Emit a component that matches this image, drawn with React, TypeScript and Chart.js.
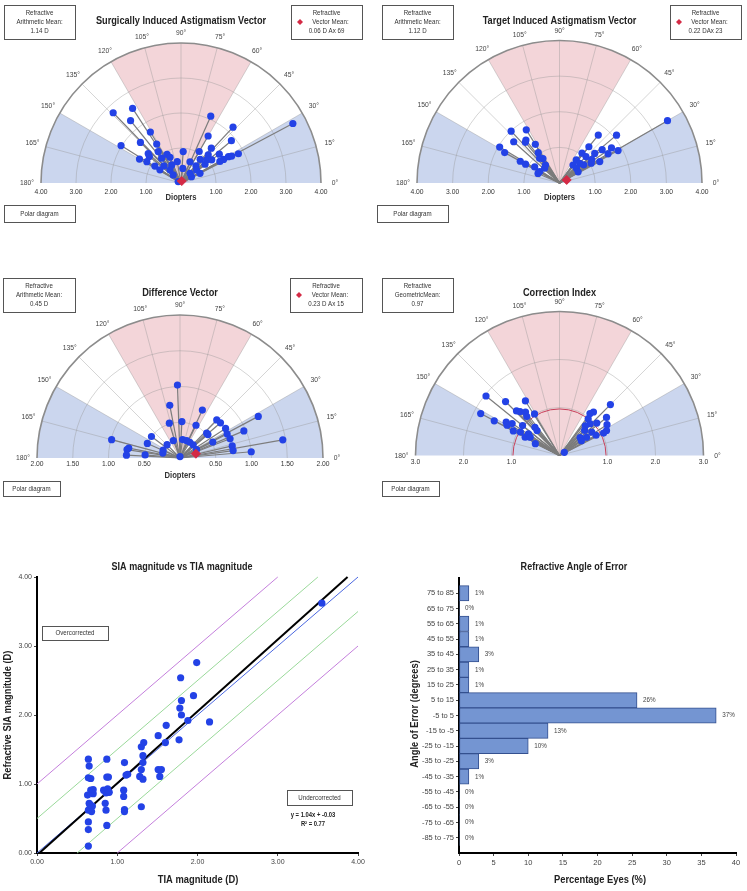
import React, { useEffect, useRef } from 'react';
import { Chart, registerables } from 'chart.js';
Chart.register(...registerables);

const FONT = "'Liberation Sans', Arial, sans-serif";
const BLUE = '#2342e6';
const RED = '#d42a45';
const PINK = '#f3d5d9';
const SKY = '#cbd6ee';

// ---------- Surgically Induced Astigmatism (SIA) vectors: magnitude (D), axis (deg)
const siaMag = [2.79, 2.54, 2.29, 1.70, 1.64, 2.02, 1.37, 1.31, 1.26, 1.18, 1.11, 1.15, 0.89, 0.90, 0.91, 0.80, 0.69, 0.58, 0.62, 0.71, 0.49, 0.90, 0.66, 0.42, 0.09, 0.35, 1.04, 0.87, 0.65, 0.87, 0.61, 2.09, 1.55, 1.32, 1.12, 0.99, 2.18, 1.88, 1.37, 1.39, 1.55, 1.64, 1.84, 1.10, 1.27, 3.62, 0.32, 0.38, 0.58];
const siaAxis = [134, 123, 129, 121, 135, 148, 150, 122, 138, 140, 126, 148, 147, 128, 116, 113, 135, 117, 100, 148, 130, 86, 67, 83, 154, 31, 60, 51, 49, 38, 27, 66, 60, 49, 46, 42, 47, 40, 37, 29, 29, 28, 27, 37, 29, 28, 134, 47, 40];
const siaArithMean = '1.14 D';
const siaMeanMag = 0.06;
const siaMeanAxis = 69;

// ---------- Target Induced Astigmatism (TIA) vectors
const tiaMag = [1.99, 1.76, 1.96, 1.76, 1.73, 1.53, 1.49, 1.28, 1.04, 1.26, 1.09, 0.89, 0.83, 0.83, 0.64, 0.64, 0.66, 0.59, 3.50, 1.73, 2.09, 1.31, 1.76, 1.88, 1.05, 1.29, 1.52, 1.59, 1.05, 1.12, 1.28, 0.80, 0.79, 0.63, 0.85, 0.63, 0.61, 1.05];
const tiaAxis = [133, 122, 149, 151, 138, 128, 130, 122, 125, 151, 151, 129, 124, 147, 128, 150, 156, 135, 30, 51, 40, 51, 34, 29, 53, 40, 38, 31, 45, 36, 28, 54, 44, 53, 37, 41, 31, 32];
const tiaArithMean = '1.12 D';
const tiaMeanMag = 0.22;
const tiaMeanAxis = 23;

// ---------- Difference vectors
const dvMag = [1.02, 0.75, 0.51, 0.51, 0.74, 0.51, 1.24, 1.46, 1.00, 0.97, 0.74, 0.75, 0.76, 0.74, 0.75, 0.75, 0.75, 0.51, 0.51, 0.51, 0.26, 0.26, 0.26, 0.26, 0.26, 0.02, 0.26, 0.26, 0.26, 0.25, 0.50, 0.50, 0.49, 0.73, 0.75, 0.75, 0.99];
const dvAxis = [92, 101, 107, 87, 65, 64, 28, 10, 5, 23, 46, 41, 33, 27, 21, 13, 8, 43, 40, 26, 82, 69, 58, 45, 27, 90, 111, 134, 155, 164, 143, 156, 175, 169, 171, 177, 165];
const dvArithMean = '0.45 D';
const dvMeanMag = 0.23;
const dvMeanAxis = 15;

// ---------- Correction index
const ciMag = [1.97, 1.86, 1.59, 1.34, 1.54, 1.29, 1.23, 1.15, 1.01, 1.06, 1.31, 1.26, 1.19, 1.09, 0.95, 0.81, 0.99, 0.78, 0.70, 0.79, 0.56, 0.72, 1.50, 1.15, 1.08, 1.26, 1.18, 1.11, 1.03, 0.97, 0.92, 0.82, 1.03, 0.74, 0.83, 0.68, 0.87, 0.57, 0.12, 0.55];
const ciAxis = [141, 152, 135, 122, 152, 134, 132, 128, 121, 130, 148, 150, 146, 152, 149, 152, 141, 131, 132, 145, 154, 148, 45, 52, 54, 39, 33, 28, 27, 52, 46, 49, 41, 45, 36, 34, 29, 41, 33, 34];
const ciGeoMean = 0.97;

// ---------- SIA vs TIA magnitude scatter
const tiaX = [0.64, 0.65, 0.64, 0.67, 0.63, 0.67, 0.65, 0.69, 0.64, 0.68, 0.64, 0.64, 0.64, 0.70, 0.87, 0.87, 0.83, 0.86, 0.85, 0.86, 0.87, 1.08, 1.08, 1.09, 1.09, 1.11, 1.13, 1.09, 1.28, 1.30, 1.30, 1.32, 1.32, 1.33, 1.32, 1.30, 1.51, 1.60, 1.61, 1.51, 1.55, 1.53, 1.77, 1.80, 1.78, 1.80, 1.88, 1.95, 2.15, 1.79, 1.99, 3.55, 0.89, 0.88, 0.90, 0.66, 0.70];
const siaY = [1.36, 1.26, 1.09, 1.08, 0.84, 0.91, 0.72, 0.68, 0.62, 0.60, 0.45, 0.34, 0.10, 0.86, 1.36, 1.10, 0.91, 0.87, 0.72, 0.62, 0.40, 0.91, 0.82, 1.31, 0.63, 1.13, 1.14, 0.60, 1.11, 1.21, 1.54, 1.31, 1.41, 1.60, 1.07, 0.67, 1.70, 1.60, 1.85, 1.21, 1.21, 1.11, 1.64, 2.00, 2.10, 2.21, 1.92, 2.28, 1.90, 2.54, 2.76, 3.62, 1.10, 0.93, 0.88, 0.70, 0.92];
const regLineX = [0.03, 3.87];
const regLineY = [0.0, 4.0];
const identX = [0, 4];
const identY = [0, 4];
const band05UpX = [0, 3.5], band05UpY = [0.5, 4];
const band05LoX = [0.5, 4], band05LoY = [0, 3.5];
const band1UpX = [0, 3], band1UpY = [1, 4];
const band1LoX = [1, 4], band1LoY = [0, 3];
const regEquation = 'y = 1.04x + -0.03';
const regR2 = 'R² = 0.77';

// ---------- Angle of error histogram
const aoeLabels = ['75 to 85', '65 to 75', '55 to 65', '45 to 55', '35 to 45', '25 to 35', '15 to 25', '5 to 15', '-5 to 5', '-15 to -5', '-25 to -15', '-35 to -25', '-45 to -35', '-55 to -45', '-65 to -55', '-75 to -65', '-85 to -75'];
const aoePct = [1.43, 0, 1.43, 1.43, 2.86, 1.43, 1.43, 25.71, 37.14, 12.86, 10.0, 2.86, 1.43, 0, 0, 0, 0];

// ---------- helpers
function txt(ctx: CanvasRenderingContext2D, s: string, x: number, y: number, size: number,
  o: { bold?: boolean; align?: CanvasTextAlign; color?: string; sx?: number; rot?: number } = {}) {
  ctx.save();
  ctx.font = `${o.bold ? 'bold ' : ''}${size}px ${FONT}`;
  ctx.fillStyle = o.color ?? '#333';
  ctx.textAlign = o.align ?? 'center';
  ctx.textBaseline = 'middle';
  ctx.translate(x, y);
  if (o.rot) ctx.rotate(o.rot);
  ctx.scale(o.sx ?? 1, 1);
  ctx.fillText(s, 0, 0);
  ctx.restore();
}

function box(ctx: CanvasRenderingContext2D, x: number, y: number, w: number, h: number) {
  ctx.save();
  ctx.fillStyle = '#fff';
  ctx.fillRect(x, y, w, h);
  ctx.strokeStyle = '#555';
  ctx.lineWidth = 1;
  ctx.strokeRect(x + 0.5, y + 0.5, w, h);
  ctx.restore();
}

function diamond(ctx: CanvasRenderingContext2D, x: number, y: number, r: number) {
  ctx.save();
  ctx.fillStyle = RED;
  ctx.beginPath();
  ctx.moveTo(x, y - r); ctx.lineTo(x + r, y); ctx.lineTo(x, y + r); ctx.lineTo(x - r, y);
  ctx.closePath(); ctx.fill();
  ctx.restore();
}

type PolarCfg = {
  w: number; h: number; cx: number; cy: number; rpx: number; maxR: number;
  rings: number[]; ringFmt: (v: number) => string; tickDy: number;
  mags: number[]; axes: number[]; meanMag?: number; meanAxis?: number; refCircle?: number;
  title: string; titleY: number;
  leftBox: { x: number; y: number; w: number; h: number; lines: string[] };
  rightBox?: { x: number; y: number; w: number; h: number; lines: string[] };
  dioptersY?: number;
  polarBox: { x: number; y: number; w: number; h: number };
};

function PolarChart({ cfg, left, top }: { cfg: PolarCfg; left: number; top: number }) {
  const ref = useRef<HTMLCanvasElement>(null);
  useEffect(() => {
    const rad = (d: number) => (d * Math.PI) / 180;
    const pts = cfg.mags.map((m, i) => ({ x: m * Math.cos(rad(cfg.axes[i])), y: m * Math.sin(rad(cfg.axes[i])) }));
    const datasets: any[] = [
      { data: pts, backgroundColor: BLUE, borderColor: BLUE, pointRadius: 3.6, pointBorderWidth: 0, clip: false, order: 2 },
    ];
    if (cfg.meanMag !== undefined && cfg.meanAxis !== undefined) {
      datasets.push({
        data: [{ x: cfg.meanMag * Math.cos(rad(cfg.meanAxis)), y: cfg.meanMag * Math.sin(rad(cfg.meanAxis)) }],
        pointStyle: 'rectRot', pointRadius: 4.5, backgroundColor: RED, borderColor: RED, clip: false, order: 0,
      });
    }
    const plugin = {
      id: 'polarBg',
      beforeDatasetsDraw(chart: any) {
        const { ctx, scales: { x, y } } = chart;
        const ox = x.getPixelForValue(0), oy = y.getPixelForValue(0);
        const R = x.getPixelForValue(cfg.maxR) - ox;
        const sector = (a1: number, a2: number, color: string) => {
          ctx.beginPath(); ctx.moveTo(ox, oy);
          ctx.arc(ox, oy, R, -rad(a2), -rad(a1));
          ctx.closePath(); ctx.fillStyle = color; ctx.fill();
        };
        ctx.save();
        ctx.fillStyle = '#fff';
        ctx.beginPath(); ctx.arc(ox, oy, R, Math.PI, 2 * Math.PI); ctx.fill();
        sector(0, 30, SKY); sector(150, 180, SKY); sector(60, 120, PINK);
        ctx.strokeStyle = 'rgba(150,150,150,0.4)'; ctx.lineWidth = 1;
        for (const r of cfg.rings) {
          if (r >= cfg.maxR) continue;
          const rp = x.getPixelForValue(r) - ox;
          ctx.beginPath(); ctx.arc(ox, oy, rp, Math.PI, 2 * Math.PI); ctx.stroke();
        }
        for (let a = 15; a < 180; a += 15) {
          ctx.beginPath(); ctx.moveTo(ox, oy);
          ctx.lineTo(ox + R * Math.cos(rad(a)), oy - R * Math.sin(rad(a))); ctx.stroke();
        }
        ctx.strokeStyle = '#8c8c8c'; ctx.lineWidth = 1.6;
        ctx.beginPath(); ctx.arc(ox, oy, R, Math.PI, 2 * Math.PI); ctx.stroke();
        if (cfg.refCircle !== undefined) {
          const rp = x.getPixelForValue(cfg.refCircle) - ox;
          ctx.strokeStyle = '#c8405a'; ctx.lineWidth = 1;
          ctx.beginPath(); ctx.arc(ox, oy, rp, Math.PI, 2 * Math.PI); ctx.stroke();
        }
        const meta = chart.getDatasetMeta(0);
        ctx.strokeStyle = '#7c7c7c'; ctx.lineWidth = 1.2;
        for (const el of meta.data) {
          ctx.beginPath(); ctx.moveTo(ox, oy); ctx.lineTo(el.x, el.y); ctx.stroke();
        }
        ctx.restore();
        for (let a = 0; a <= 180; a += 15) {
          const lr = R + 10 + 4 * Math.abs(Math.cos(rad(a)));
          txt(ctx, `${a}°`, ox + lr * Math.cos(rad(a)), oy - lr * Math.sin(rad(a)), 7.5, { color: '#444', sx: 0.9 });
        }
        for (const r of cfg.rings) {
          const rp = x.getPixelForValue(r) - ox;
          txt(ctx, cfg.ringFmt(r), ox - rp, oy + cfg.tickDy, 7.5, { color: '#333', sx: 0.9 });
          txt(ctx, cfg.ringFmt(r), ox + rp, oy + cfg.tickDy, 7.5, { color: '#333', sx: 0.9 });
        }
      },
      afterDraw(chart: any) {
        const { ctx } = chart;
        txt(ctx, cfg.title, cfg.cx, cfg.titleY, 11.5, { bold: true, color: '#222', sx: 0.8 });
        const lb = cfg.leftBox;
        box(ctx, lb.x, lb.y, lb.w, lb.h);
        lb.lines.forEach((s, i) => txt(ctx, s, lb.x + lb.w / 2, lb.y + 8 + i * 9, 7, { color: '#333', sx: 0.88 }));
        if (cfg.rightBox) {
          const rb = cfg.rightBox;
          box(ctx, rb.x, rb.y, rb.w, rb.h);
          rb.lines.forEach((s, i) => {
            if (i === 1) {
              txt(ctx, s, rb.x + rb.w / 2 + 4, rb.y + 8 + i * 9, 7, { color: '#333', sx: 0.88 });
              diamond(ctx, rb.x + 9, rb.y + 8 + i * 9, 3);
            } else {
              txt(ctx, s, rb.x + rb.w / 2, rb.y + 8 + i * 9, 7, { color: '#333', sx: 0.88 });
            }
          });
        }
        if (cfg.dioptersY !== undefined) txt(ctx, 'Diopters', cfg.cx, cfg.dioptersY, 8.5, { bold: true, color: '#333', sx: 0.9 });
        const pb = cfg.polarBox;
        box(ctx, pb.x, pb.y, pb.w, pb.h);
        txt(ctx, 'Polar diagram', pb.x + pb.w / 2, pb.y + pb.h / 2 + 0.5, 7, { color: '#333', sx: 0.88 });
      },
    };
    const chart = new Chart(ref.current!, {
      type: 'scatter',
      data: { datasets },
      options: {
        animation: false, responsive: false, maintainAspectRatio: false,
        layout: { padding: { left: cfg.cx - cfg.rpx, right: cfg.w - cfg.cx - cfg.rpx, top: cfg.cy - cfg.rpx, bottom: cfg.h - cfg.cy } },
        scales: {
          x: { type: 'linear', min: -cfg.maxR, max: cfg.maxR, display: false },
          y: { type: 'linear', min: 0, max: cfg.maxR, display: false },
        },
        plugins: { legend: { display: false }, tooltip: { enabled: false } },
      } as any,
      plugins: [plugin],
    });
    return () => chart.destroy();
  }, []);
  return <canvas ref={ref} width={cfg.w} height={cfg.h} style={{ position: 'absolute', left, top, width: cfg.w, height: cfg.h }} />;
}

function ScatterChart() {
  const ref = useRef<HTMLCanvasElement>(null);
  useEffect(() => {
    const line = (xs: number[], ys: number[], color: string, width: number) => ({
      type: 'line', data: xs.map((v, i) => ({ x: v, y: ys[i] })), borderColor: color, borderWidth: width,
      pointRadius: 0, fill: false, order: 2, clip: false,
    });
    const plugin = {
      id: 'scatterText',
      afterDraw(chart: any) {
        const { ctx } = chart;
        txt(ctx, 'SIA magnitude vs TIA magnitude', 182, 27, 11, { bold: true, color: '#222', sx: 0.82 });
        txt(ctx, 'TIA magnitude (D)', 198, 340, 11, { bold: true, color: '#222', sx: 0.85 });
        txt(ctx, 'Refractive SIA magnitude (D)', 8, 175, 11, { bold: true, color: '#222', sx: 0.85, rot: -Math.PI / 2 });
        box(ctx, 42, 86, 66, 14);
        txt(ctx, 'Overcorrected', 75, 93.5, 7, { color: '#333', sx: 0.88 });
        box(ctx, 287, 250, 65, 15);
        txt(ctx, 'Undercorrected', 319.5, 258, 7, { color: '#333', sx: 0.88 });
        txt(ctx, regEquation, 313, 275, 6.5, { bold: true, color: '#222', sx: 0.9 });
        txt(ctx, regR2, 313, 284, 6.5, { bold: true, color: '#222', sx: 0.9 });
      },
    };
    const chart = new Chart(ref.current!, {
      type: 'scatter',
      data: {
        datasets: [
          { type: 'scatter', data: tiaX.map((v, i) => ({ x: v, y: siaY[i] })), backgroundColor: BLUE, borderColor: BLUE, pointRadius: 3.6, pointBorderWidth: 0, order: 0, clip: false },
          line(regLineX, regLineY, '#000', 2),
          line(identX, identY, '#4a67e0', 1),
          line(band05UpX, band05UpY, '#9ad99a', 1),
          line(band05LoX, band05LoY, '#9ad99a', 1),
          line(band1UpX, band1UpY, '#c47fdc', 1),
          line(band1LoX, band1LoY, '#c47fdc', 1),
        ] as any,
      },
      options: {
        animation: false, responsive: false, maintainAspectRatio: false,
        layout: { padding: { left: 0, right: 15, top: 37, bottom: 0 } },
        scales: {
          x: {
            type: 'linear', min: 0, max: 4,
            ticks: { stepSize: 1, callback: (v: any) => Number(v).toFixed(2), font: { family: FONT, size: 7 }, color: '#444', padding: 2, maxRotation: 0 },
            grid: { display: true, drawOnChartArea: false, tickLength: 3, color: '#444' },
            border: { display: true, color: '#000', width: 2 },
            afterFit: (s: any) => { s.height = 38; },
          },
          y: {
            type: 'linear', min: 0, max: 4,
            ticks: { stepSize: 1, callback: (v: any) => Number(v).toFixed(2), font: { family: FONT, size: 7 }, color: '#444', padding: 2 },
            grid: { display: true, drawOnChartArea: false, tickLength: 3, color: '#444' },
            border: { display: true, color: '#000', width: 2 },
            afterFit: (s: any) => { s.width = 37; },
          },
        },
        plugins: { legend: { display: false }, tooltip: { enabled: false } },
      } as any,
      plugins: [plugin],
    });
    return () => chart.destroy();
  }, []);
  return <canvas ref={ref} width={373} height={351} style={{ position: 'absolute', left: 0, top: 540, width: 373, height: 351 }} />;
}

function BarChart() {
  const ref = useRef<HTMLCanvasElement>(null);
  useEffect(() => {
    const plugin = {
      id: 'barText',
      afterDatasetsDraw(chart: any) {
        const { ctx } = chart;
        const meta = chart.getDatasetMeta(0);
        meta.data.forEach((el: any, i: number) => {
          txt(ctx, `${Math.round(aoePct[i])}%`, el.x + 6, el.y, 7, { align: 'left', color: '#444', sx: 0.9 });
        });
      },
      afterDraw(chart: any) {
        const { ctx } = chart;
        txt(ctx, 'Refractive Angle of Error', 201, 27, 11, { bold: true, color: '#222', sx: 0.82 });
        txt(ctx, 'Percentage Eyes (%)', 227, 340, 11, { bold: true, color: '#222', sx: 0.85 });
        txt(ctx, 'Angle of Error (degrees)', 42, 174, 11, { bold: true, color: '#222', sx: 0.85, rot: -Math.PI / 2 });
      },
    };
    const chart = new Chart(ref.current!, {
      type: 'bar',
      data: {
        datasets: [{
          data: aoePct.map((v, i) => ({ x: v, y: i })),
          backgroundColor: '#7495d2', borderColor: '#34508f',
          borderWidth: (c: any) => (c.raw && c.raw.x > 0 ? 1 : 0),
          borderSkipped: false, barPercentage: 1, categoryPercentage: 1,
        }] as any,
      },
      options: {
        indexAxis: 'y',
        animation: false, responsive: false, maintainAspectRatio: false,
        layout: { padding: { left: 0, right: 11, top: 38, bottom: 0 } },
        scales: {
          x: {
            type: 'linear', min: 0, max: 40,
            ticks: { stepSize: 5, font: { family: FONT, size: 7.5 }, color: '#444', padding: 2, maxRotation: 0 },
            grid: { display: true, drawOnChartArea: false, tickLength: 3, color: '#444' },
            border: { display: true, color: '#000', width: 2 },
            afterFit: (s: any) => { s.height = 38; },
          },
          y: {
            type: 'linear', min: -1, max: aoeLabels.length, reverse: true, offset: false,
            afterBuildTicks: (axis: any) => {
              axis.ticks = aoeLabels.map((_, i) => ({ value: i }));
            },
            ticks: { autoSkip: false, callback: (v: any) => aoeLabels[v] ?? '', font: { family: FONT, size: 7.5 }, color: '#444', padding: 2 },
            grid: { display: true, drawOnChartArea: false, tickLength: 3, color: '#444', offset: false },
            border: { display: true, color: '#000', width: 2 },
            afterFit: (s: any) => { s.width = 86; },
          },
        },
        plugins: { legend: { display: false }, tooltip: { enabled: false } },
      } as any,
      plugins: [plugin],
    });
    return () => chart.destroy();
  }, []);
  return <canvas ref={ref} width={374} height={351} style={{ position: 'absolute', left: 373, top: 540, width: 374, height: 351 }} />;
}

const f2 = (v: number) => v.toFixed(2);
const f1 = (v: number) => v.toFixed(1);

const cfgSIA: PolarCfg = {
  w: 373, h: 240, cx: 181, cy: 183, rpx: 140, maxR: 4, rings: [1, 2, 3, 4], ringFmt: f2, tickDy: 9,
  mags: siaMag, axes: siaAxis, meanMag: siaMeanMag, meanAxis: siaMeanAxis,
  title: 'Surgically Induced Astigmatism Vector', titleY: 21,
  leftBox: { x: 4, y: 5, w: 71, h: 34, lines: ['Refractive', 'Arithmetic Mean:', siaArithMean] },
  rightBox: { x: 291, y: 5, w: 71, h: 34, lines: ['Refractive', 'Vector Mean:', `${f2(siaMeanMag)} D Ax ${siaMeanAxis}`] },
  dioptersY: 198, polarBox: { x: 4, y: 205, w: 71, h: 17 },
};
const cfgTIA: PolarCfg = {
  w: 374, h: 240, cx: 186.5, cy: 183, rpx: 142.5, maxR: 4, rings: [1, 2, 3, 4], ringFmt: f2, tickDy: 9,
  mags: tiaMag, axes: tiaAxis, meanMag: tiaMeanMag, meanAxis: tiaMeanAxis,
  title: 'Target Induced Astigmatism Vector', titleY: 21,
  leftBox: { x: 9, y: 5, w: 71, h: 34, lines: ['Refractive', 'Arithmetic Mean:', tiaArithMean] },
  rightBox: { x: 297, y: 5, w: 71, h: 34, lines: ['Refractive', 'Vector Mean:', `${f2(tiaMeanMag)} DAx ${tiaMeanAxis}`] },
  dioptersY: 198, polarBox: { x: 4, y: 205, w: 71, h: 17 },
};
const cfgDV: PolarCfg = {
  w: 373, h: 260, cx: 180, cy: 218, rpx: 143, maxR: 2, rings: [0.5, 1, 1.5, 2], ringFmt: f2, tickDy: 6,
  mags: dvMag, axes: dvAxis, meanMag: dvMeanMag, meanAxis: dvMeanAxis,
  title: 'Difference Vector', titleY: 53,
  leftBox: { x: 3, y: 38, w: 72, h: 34, lines: ['Refractive', 'Arithmetic Mean:', dvArithMean] },
  rightBox: { x: 290, y: 38, w: 72, h: 34, lines: ['Refractive', 'Vector Mean:', `${f2(dvMeanMag)} D Ax ${dvMeanAxis}`] },
  dioptersY: 236, polarBox: { x: 3, y: 241, w: 57, h: 15 },
};
const cfgCI: PolarCfg = {
  w: 374, h: 260, cx: 186.5, cy: 215.5, rpx: 144, maxR: 3, rings: [1, 2, 3], ringFmt: f1, tickDy: 6,
  mags: ciMag, axes: ciAxis, refCircle: ciGeoMean,
  title: 'Correction Index', titleY: 53,
  leftBox: { x: 9, y: 38, w: 71, h: 34, lines: ['Refractive', 'GeometricMean:', f2(ciGeoMean)] },
  polarBox: { x: 9, y: 241, w: 57, h: 15 },
};

export default function App() {
  return (
    <div style={{ position: 'absolute', left: 0, top: 0, width: 747, height: 891, background: '#fff' }}>
      <PolarChart cfg={cfgSIA} left={0} top={0} />
      <PolarChart cfg={cfgTIA} left={373} top={0} />
      <PolarChart cfg={cfgDV} left={0} top={240} />
      <PolarChart cfg={cfgCI} left={373} top={240} />
      <ScatterChart />
      <BarChart />
    </div>
  );
}
